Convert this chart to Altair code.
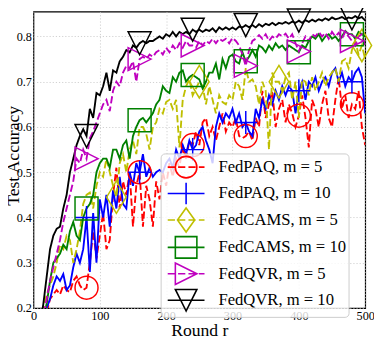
import altair as alt
import pandas as pd

rounds = list(range(0, 501, 5))

series_names = [
    "FedPAQ, m = 5", "FedPAQ, m = 10",
    "FedCAMS, m = 5", "FedCAMS, m = 10",
    "FedQVR, m = 5", "FedQVR, m = 10",
]
colors = ["#ff0000", "#0000ff", "#bfbf00", "#008000", "#bf00bf", "#000000"]
dashed = [True, False, True, False, True, False]
marker_kinds = ["circle", "plus", "thin_diamond", "square", "tri_right", "tri_down"]

fedpaq_5 = [
    0.08, 0.10, 0.13, 0.16, 0.19, 0.22, 0.23, 0.24, 0.23, 0.25, 0.24, 0.235, 0.26, 0.27, 0.25, 0.24, 0.245, 0.30, 0.37, 0.31,
    0.36, 0.41, 0.33, 0.35, 0.45, 0.51, 0.42, 0.48, 0.45, 0.50, 0.38, 0.47, 0.50, 0.38, 0.47, 0.44, 0.38, 0.48, 0.44, 0.50,
    0.47, 0.52, 0.49, 0.53, 0.51, 0.56, 0.53, 0.57, 0.56, 0.59, 0.56, 0.61, 0.62, 0.58, 0.60, 0.57, 0.60, 0.63, 0.59, 0.61,
    0.60, 0.62, 0.58, 0.575, 0.58, 0.59, 0.57, 0.62, 0.60, 0.68, 0.62, 0.65, 0.68, 0.60, 0.64, 0.66, 0.61, 0.65, 0.63, 0.60,
    0.625, 0.67, 0.62, 0.555, 0.66, 0.64, 0.60, 0.65, 0.68, 0.62, 0.60, 0.66, 0.71, 0.64, 0.67, 0.62, 0.65, 0.64, 0.68, 0.60,
    0.56,
]
fedpaq_10 = [
    0.10, 0.12, 0.15, 0.18, 0.20, 0.22, 0.25, 0.27, 0.26, 0.275, 0.24, 0.25, 0.29, 0.32, 0.30, 0.33, 0.40, 0.28, 0.41, 0.30,
    0.44, 0.40, 0.45, 0.38, 0.46, 0.42, 0.49, 0.43, 0.42, 0.50, 0.47, 0.52, 0.50, 0.54, 0.49, 0.51, 0.49, 0.50, 0.505, 0.50,
    0.52, 0.53, 0.51, 0.55, 0.53, 0.56, 0.54, 0.57, 0.55, 0.56, 0.59, 0.60, 0.57, 0.55, 0.52, 0.60, 0.63, 0.61, 0.63, 0.62,
    0.64, 0.61, 0.63, 0.60, 0.61, 0.59, 0.58, 0.64, 0.62, 0.66, 0.64, 0.67, 0.65, 0.68, 0.66, 0.69, 0.67, 0.69, 0.68, 0.63,
    0.68, 0.70, 0.66, 0.70, 0.69, 0.71, 0.68, 0.70, 0.71, 0.69, 0.72, 0.73, 0.70, 0.72, 0.69, 0.71, 0.70, 0.72, 0.73, 0.71,
    0.63,
]
fedcams_5 = [
    0.10, 0.12, 0.16, 0.20, 0.23, 0.25, 0.27, 0.30, 0.34, 0.33, 0.36, 0.35, 0.30, 0.33, 0.37, 0.43, 0.45, 0.455, 0.42, 0.47,
    0.50, 0.49, 0.53, 0.50, 0.47, 0.445, 0.52, 0.54, 0.50, 0.55, 0.57, 0.54, 0.60, 0.60, 0.585, 0.55, 0.60, 0.61, 0.64, 0.63,
    0.655, 0.66, 0.64, 0.66, 0.555, 0.66, 0.69, 0.705, 0.67, 0.685, 0.70, 0.69, 0.65, 0.69, 0.66, 0.63, 0.67, 0.655, 0.65, 0.67,
    0.66, 0.70, 0.69, 0.66, 0.73, 0.70, 0.705, 0.69, 0.65, 0.70, 0.68, 0.55, 0.72, 0.70, 0.70, 0.68, 0.71, 0.72, 0.66, 0.70,
    0.62, 0.705, 0.70, 0.67, 0.71, 0.68, 0.70, 0.72, 0.69, 0.71, 0.72, 0.73, 0.70, 0.745, 0.75, 0.73, 0.77, 0.79, 0.76, 0.78,
    0.75,
]
fedcams_10 = [
    0.10, 0.12, 0.15, 0.18, 0.21, 0.26, 0.30, 0.31, 0.32, 0.34, 0.33, 0.37, 0.39, 0.36, 0.35, 0.40, 0.42, 0.43, 0.45, 0.50,
    0.52, 0.53, 0.53, 0.51, 0.55, 0.55, 0.53, 0.56, 0.57, 0.53, 0.58, 0.60, 0.615, 0.62, 0.61, 0.62, 0.63, 0.65, 0.66, 0.69,
    0.68, 0.675, 0.71, 0.70, 0.72, 0.725, 0.70, 0.71, 0.715, 0.71, 0.705, 0.685, 0.70, 0.72, 0.72, 0.74, 0.705, 0.75, 0.73, 0.755,
    0.76, 0.745, 0.74, 0.765, 0.745, 0.755, 0.77, 0.755, 0.78, 0.775, 0.765, 0.78, 0.77, 0.785, 0.775, 0.78, 0.77, 0.78, 0.775, 0.77,
    0.765, 0.78, 0.775, 0.79, 0.80, 0.795, 0.805, 0.79, 0.80, 0.805, 0.795, 0.80, 0.79, 0.80, 0.812, 0.805, 0.805, 0.795, 0.81, 0.805,
    0.80,
]
fedqvr_5 = [
    0.10, 0.12, 0.15, 0.18, 0.22, 0.26, 0.29, 0.32, 0.35, 0.39, 0.42, 0.45, 0.48, 0.53, 0.52, 0.55, 0.53, 0.575, 0.59, 0.61,
    0.63, 0.65, 0.66, 0.635, 0.68, 0.70, 0.69, 0.72, 0.735, 0.73, 0.745, 0.70, 0.75, 0.755, 0.75, 0.76, 0.755, 0.765, 0.77, 0.76,
    0.775, 0.765, 0.78, 0.77, 0.785, 0.775, 0.79, 0.78, 0.78, 0.775, 0.79, 0.78, 0.79, 0.785, 0.795, 0.785, 0.795, 0.79, 0.795, 0.785,
    0.797, 0.79, 0.78, 0.76, 0.735, 0.77, 0.79, 0.795, 0.803, 0.795, 0.805, 0.79, 0.80, 0.795, 0.805, 0.80, 0.806, 0.795, 0.805, 0.785,
    0.767, 0.785, 0.80, 0.79, 0.805, 0.80, 0.81, 0.80, 0.808, 0.795, 0.81, 0.80, 0.808, 0.795, 0.81, 0.80, 0.79, 0.78, 0.80, 0.805,
    0.78,
]
fedqvr_10 = [
    0.10, 0.12, 0.16, 0.21, 0.27, 0.33, 0.36, 0.375, 0.38, 0.42, 0.45, 0.50, 0.53, 0.56, 0.58, 0.595, 0.58, 0.64, 0.62, 0.675,
    0.67, 0.69, 0.72, 0.68, 0.725, 0.72, 0.745, 0.755, 0.77, 0.765, 0.78, 0.775, 0.785, 0.79, 0.785, 0.79, 0.79, 0.795, 0.80, 0.795,
    0.805, 0.80, 0.81, 0.80, 0.81, 0.805, 0.81, 0.805, 0.815, 0.81, 0.815, 0.81, 0.815, 0.812, 0.818, 0.81, 0.82, 0.815, 0.82, 0.815,
    0.82, 0.815, 0.822, 0.82, 0.825, 0.82, 0.825, 0.82, 0.827, 0.822, 0.828, 0.825, 0.83, 0.825, 0.83, 0.828, 0.832, 0.828, 0.833, 0.83,
    0.835, 0.83, 0.836, 0.832, 0.837, 0.833, 0.838, 0.835, 0.84, 0.836, 0.842, 0.838, 0.84, 0.843, 0.838, 0.842, 0.84, 0.845, 0.84, 0.843,
    0.835,
]

marker_rounds = [
    [80, 160, 240, 320, 400, 480],
    [80, 160, 240, 320, 400, 480],
    [125, 250, 370, 495],
    [80, 160, 240, 320, 400, 480],
    [80, 160, 240, 320, 400, 480],
    [80, 160, 240, 320, 400, 480],
]

all_series = [fedpaq_5, fedpaq_10, fedcams_5, fedcams_10, fedqvr_5, fedqvr_10]

# ---- tables ----
line_rows = []
mark_rows = []
for name, vals, mrs in zip(series_names, all_series, marker_rounds):
    for r, v in zip(rounds, vals):
        line_rows.append({"round": r, "acc": v, "series": name})
        if r in mrs:
            mark_rows.append({"round": r, "acc": v, "series": name})
df_lines = pd.DataFrame(line_rows)
df_marks = pd.DataFrame(mark_rows)


# ---- marker path styles (unit: marker size = 1) ----
def f(v):
    return f"{v:.3f}"


KAPPA = 0.5523


def marker_path(kind, k, diamond=(0.707, 0.424)):
    if kind == "circle":
        r = 0.5 * k
        c = KAPPA * r
        return (f"M{f(r)},0C{f(r)},{f(c)},{f(c)},{f(r)},0,{f(r)}"
                f"C{f(-c)},{f(r)},{f(-r)},{f(c)},{f(-r)},0"
                f"C{f(-r)},{f(-c)},{f(-c)},{f(-r)},0,{f(-r)}"
                f"C{f(c)},{f(-r)},{f(r)},{f(-c)},{f(r)},0Z")
    if kind == "plus":
        h = 0.5 * k
        return f"M{f(-h)},0L{f(h)},0M0,{f(-h)}L0,{f(h)}"
    if kind == "thin_diamond":
        hy = diamond[0] * k
        hx = diamond[1] * k
        return f"M0,{f(-hy)}L{f(hx)},0L0,{f(hy)}L{f(-hx)},0Z"
    if kind == "square":
        h = 0.5 * k
        return f"M{f(-h)},{f(-h)}L{f(h)},{f(-h)}L{f(h)},{f(h)}L{f(-h)},{f(h)}Z"
    if kind == "tri_right":
        h = 0.5 * k
        return f"M{f(h)},0L{f(-h)},{f(-h)}L{f(-h)},{f(h)}Z"
    if kind == "tri_down":
        h = 0.5 * k
        return f"M0,{f(h)}L{f(-h)},{f(-h)}L{f(h)},{f(-h)}Z"
    return ""


MS_PX = 23.5
PLOT_SIZE = (2 * MS_PX) ** 2          # path unit = 23.5 px
LEG_MS_PX = 22.0
LEG_SYM = 22.0
LEG_SIZE = LEG_SYM ** 2               # path unit = 11 px
leg_k = LEG_MS_PX / (LEG_SYM / 2)
half_line = 18.8 / (LEG_SYM / 2)
dash_u = 7.4 / (LEG_SYM / 2)
gap_u = 3.2 / (LEG_SYM / 2)


def legend_line(is_dashed):
    if not is_dashed:
        return f"M{f(-half_line)},0L{f(half_line)},0"
    parts = []
    x = -half_line
    while x < half_line:
        x2 = min(x + dash_u, half_line)
        parts.append(f"M{f(x)},0L{f(x2)},0")
        x = x2 + gap_u
    return "".join(parts)


plot_shapes = [marker_path(k, 1.0) for k in marker_kinds]
legend_shapes = [marker_path(k, leg_k, diamond=(0.56, 0.4)) + legend_line(d) for k, d in zip(marker_kinds, dashed)]
dash_range = [[7.4, 3.2] if d else [1, 0] for d in dashed]

FONT = "'Liberation Serif', 'Times New Roman', serif"

X = alt.X(
    "round:Q",
    scale=alt.Scale(domain=[0, 500], nice=False),
    axis=alt.Axis(
        values=[0, 100, 200, 300, 400, 500], title="Round r",
        labelFlush=False, labelPadding=2,
        titleX=169.5, titleY=28, titleAlign="center", titleBaseline="alphabetic",
    ),
)
Y = alt.Y(
    "acc:Q",
    scale=alt.Scale(domain=[0.2, 0.855], nice=False, zero=False),
    axis=alt.Axis(
        values=[0.2, 0.3, 0.4, 0.5, 0.6, 0.7, 0.8], format=".1f", title="Test Accuracy",
        labelFlush=False, labelPadding=2,
        titleAngle=270, titleX=-15, titleY=147, titleAlign="center", titleBaseline="alphabetic",
    ),
)

color_scale = alt.Scale(domain=series_names, range=colors)

lines = alt.Chart(df_lines).mark_line(strokeWidth=1.9, clip=True).encode(
    x=X, y=Y,
    color=alt.Color("series:N", scale=color_scale, legend=None),
    strokeDash=alt.StrokeDash("series:N", scale=alt.Scale(domain=series_names, range=dash_range), legend=None),
)

markers = alt.Chart(df_marks).mark_point(filled=False, strokeWidth=1.5, size=PLOT_SIZE, opacity=1).encode(
    x=X, y=Y,
    color=alt.Color("series:N", scale=color_scale, legend=None),
    shape=alt.Shape("series:N", scale=alt.Scale(domain=series_names, range=plot_shapes), legend=None),
)

leg = alt.Legend(
    title=None, orient="none", legendX=130, legendY=145,
    padding=2, symbolOffset=12, labelOffset=21, rowPadding=-7, gridAlign="each",
    symbolSize=LEG_SIZE, symbolStrokeWidth=1.6, symbolOpacity=1,
    symbolFillColor="transparent",
    labelFont=FONT, labelFontSize=17, labelColor="black", labelLimit=300,
    fillColor="rgba(255,255,255,0.8)", strokeColor="#cccccc", cornerRadius=4,
)

legend_layer = alt.Chart(df_marks).mark_point(filled=False, size=10, opacity=0).encode(
    x=X, y=Y,
    color=alt.Color("series:N", scale=color_scale, legend=leg),
    shape=alt.Shape("series:N", scale=alt.Scale(domain=series_names, range=legend_shapes), legend=leg),
)

chart = (
    alt.layer(lines, markers, legend_layer)
    .resolve_scale(color="independent", shape="independent", strokeDash="independent")
    .properties(
        width=339, height=303,
        padding={"left": 26, "top": 0, "right": 9, "bottom": 28},
        autosize=alt.AutoSizeParams(type="none"),
    )
    .configure_view(stroke="black", strokeWidth=1.2)
    .configure_axis(
        labelFont=FONT, labelFontSize=12.5, labelColor="black",
        titleFont=FONT, titleFontSize=18, titleFontWeight="normal", titleColor="black",
        ticks=False, domain=False,
        grid=True, gridColor="#c4c4c4", gridDash=[1.2, 2], gridWidth=0.8,
    )
)

chart.save("out.html", embed_options={"renderer": "svg", "actions": False})
